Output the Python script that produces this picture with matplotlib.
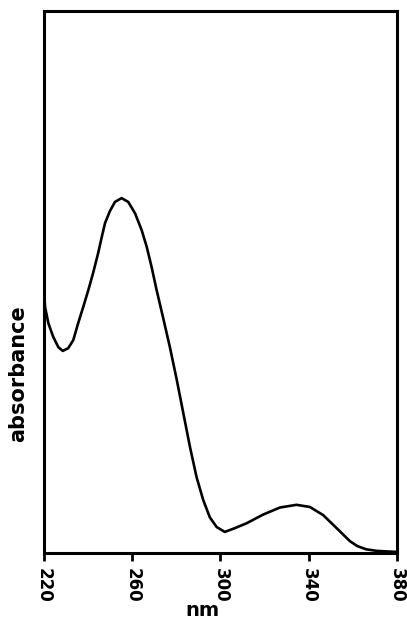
import matplotlib

matplotlib.use("Agg")
import matplotlib.pyplot as plt

# spectrum (absorbance in arbitrary units, 0-1 of the frame)
wavelength_nm = [
    220.0, 220.5, 222.0, 224.2, 226.5, 228.5, 231.0, 233.3, 235.5, 237.8,
    240.1, 242.3, 244.6, 246.2, 247.7, 249.9, 252.2, 255.2, 258.2, 261.3,
    264.3, 266.6, 268.8, 271.1, 274.1, 277.1, 280.2, 283.1, 286.2, 289.2,
    292.2, 295.2, 298.3, 302.0, 306.6, 311.9, 319.4, 327.0, 334.5, 340.6,
    346.6, 352.7, 358.7, 362.0, 366.0, 370.8, 380.0,
]
absorbance = [
    0.485, 0.454, 0.424, 0.399, 0.380, 0.373, 0.378, 0.393, 0.424, 0.454,
    0.485, 0.517, 0.554, 0.583, 0.609, 0.631, 0.648, 0.655, 0.648, 0.627,
    0.596, 0.565, 0.528, 0.485, 0.433, 0.380, 0.320, 0.260, 0.196, 0.140,
    0.098, 0.066, 0.048, 0.039, 0.046, 0.055, 0.071, 0.084, 0.089, 0.085,
    0.070, 0.046, 0.022, 0.013, 0.007, 0.004, 0.002,
]
x_ticks = [220, 260, 300, 340, 380]

plt.rcParams["font.family"] = ["DejaVu Sans"]
plt.rcParams["font.weight"] = "bold"

fig = plt.figure(figsize=(4.07, 6.2), dpi=100)
ax = fig.add_axes([0.108, 0.108, 0.867, 0.874])

ax.plot(wavelength_nm, absorbance, color="black", lw=1.9,
        solid_joinstyle="round", solid_capstyle="round")

ax.set_xlim(220, 380)
ax.set_ylim(0, 1)
ax.set_xticks(x_ticks)
ax.set_xticklabels([str(t) for t in x_ticks], rotation=270, fontsize=12, fontweight="bold")
ax.set_yticks([])
ax.tick_params(axis="x", direction="out", length=6, width=2, pad=5)
for sp in ax.spines.values():
    sp.set_linewidth(2.2)

fig.text(202 / 407, 1 - 610 / 620, "nm", ha="center", va="center",
         fontsize=14, fontweight="bold")
fig.text(18 / 407, 1 - 374 / 620, "absorbance", ha="center", va="center",
         rotation=90, fontsize=15, fontweight="bold")

fig.savefig("out.png", dpi=100, facecolor="white")
